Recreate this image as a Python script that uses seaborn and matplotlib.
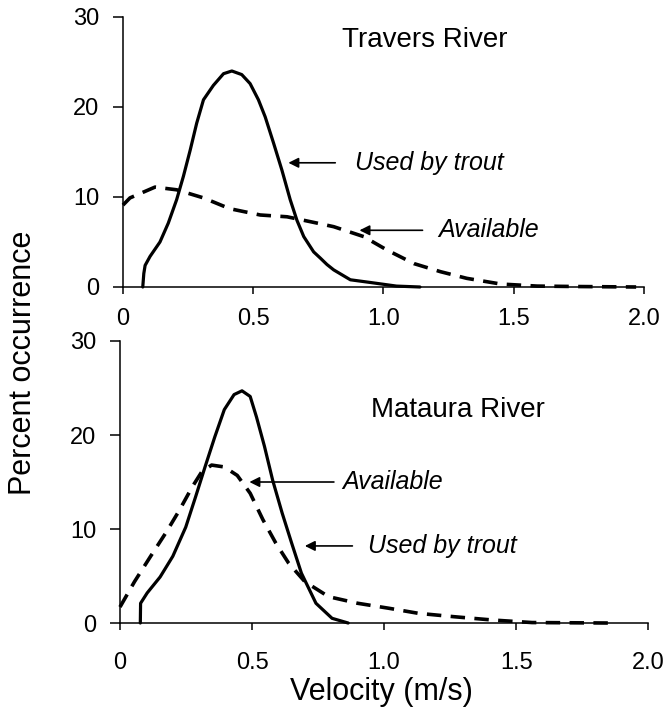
import matplotlib
matplotlib.use("Agg")
import matplotlib.pyplot as plt
import seaborn as sns

# Travers River: velocity (m/s) vs percent occurrence
travers_used_v = [0.076, 0.08, 0.085, 0.104, 0.142, 0.174, 0.206, 0.232, 0.258, 0.283,
                  0.309, 0.347, 0.386, 0.418, 0.456, 0.488, 0.52, 0.546, 0.578, 0.61,
                  0.642, 0.668, 0.694, 0.732, 0.758, 0.783, 0.809, 0.873, 0.95, 1.05, 1.14]
travers_used_pct = [0, 1.5, 2.4, 3.4, 5.0, 7.1, 9.7, 12.3, 15.2, 18.2,
                    20.8, 22.4, 23.7, 24.0, 23.6, 22.6, 20.8, 18.9, 16.0, 13.0,
                    9.7, 7.4, 5.6, 3.9, 3.2, 2.5, 1.9, 0.8, 0.5, 0.1, 0]
travers_avail_v = [0, 0.027, 0.123, 0.206, 0.309, 0.41, 0.527, 0.63, 0.745, 0.809,
                   0.924, 1.014, 1.117, 1.219, 1.32, 1.45, 1.59, 1.75, 1.97]
travers_avail_pct = [9.1, 9.9, 11.1, 10.8, 9.9, 8.7, 8.0, 7.8, 7.1, 6.7,
                     5.6, 4.1, 2.6, 1.7, 0.96, 0.33, 0.1, 0.05, 0]

# Mataura River
mataura_used_v = [0.077, 0.078, 0.103, 0.152, 0.2, 0.249, 0.286, 0.322, 0.359, 0.395,
                  0.432, 0.462, 0.493, 0.517, 0.547, 0.578, 0.614, 0.65, 0.687, 0.742,
                  0.803, 0.864]
mataura_used_pct = [0, 2.1, 3.2, 4.9, 7.1, 10.2, 13.4, 16.6, 19.8, 22.7,
                    24.3, 24.7, 24.1, 21.9, 18.8, 15.2, 11.7, 8.5, 5.3, 2.1,
                    0.5, 0]
mataura_avail_v = [0, 0.055, 0.116, 0.176, 0.225, 0.274, 0.31, 0.347, 0.395, 0.444,
                   0.493, 0.541, 0.59, 0.639, 0.70, 0.79, 0.9, 1.02, 1.13, 1.265,
                   1.41, 1.56, 1.85]
mataura_avail_pct = [1.7, 4.4, 7.1, 9.7, 12.0, 14.5, 16.1, 16.8, 16.6, 15.7,
                     13.8, 11.0, 8.5, 6.35, 4.4, 2.8, 2.1, 1.56, 1.03, 0.67,
                     0.32, 0.05, 0]

x_ticks = [0, 0.5, 1.0, 1.5, 2.0]
x_tick_labels = ["0", "0.5", "1.0", "1.5", "2.0"]
y_ticks = [0, 10, 20, 30]
y_tick_labels = ["0", "10", "20", "30"]

sns.set_theme(style="ticks")
plt.rcParams["font.family"] = ["Liberation Sans", "DejaVu Sans"]
plt.rcParams["text.color"] = "black"

fig = plt.figure(figsize=(6.64, 7.2), dpi=100)
ax_top = fig.add_axes([0.1852, 0.6014, 0.7846, 0.375])
ax_bot = fig.add_axes([0.1807, 0.1347, 0.7955, 0.3917])

dash = (0, (4, 2.6))


def style_axes(ax, xpad):
    ax.set_xlim(0, 2.0)
    ax.set_ylim(0, 30)
    ax.set_xticks(x_ticks)
    ax.set_xticklabels(x_tick_labels)
    ax.set_yticks(y_ticks)
    ax.set_yticklabels(y_tick_labels)
    sns.despine(ax=ax)
    for side in ("left", "bottom"):
        ax.spines[side].set_linewidth(1.1)
        ax.spines[side].set_color("black")
    ax.tick_params(axis="y", length=7, width=1.1, pad=10, labelsize=17, colors="black")
    ax.tick_params(axis="x", length=5, width=1.1, pad=xpad, labelsize=17, colors="black")
    ax.set_xlabel("")
    ax.set_ylabel("")
    ax.set_facecolor("white")


def draw_pair(ax, uv, up, av, ap):
    sns.lineplot(x=uv, y=up, ax=ax, color="black", lw=2.3,
                 estimator=None, sort=False, clip_on=False,
                 solid_joinstyle="round", solid_capstyle="round")
    sns.lineplot(x=av, y=ap, ax=ax, color="black", lw=2.6, linestyle=dash,
                 estimator=None, sort=False, clip_on=False,
                 dash_joinstyle="round")


def label_arrow(ax, text, head, tail_x, text_x):
    ax.annotate("", xy=head, xytext=(tail_x, head[1]),
                arrowprops=dict(arrowstyle="-|>", lw=1.2, color="black",
                                mutation_scale=15, shrinkA=0, shrinkB=0))
    ax.text(text_x, head[1], text, fontsize=18, fontstyle="italic",
            ha="left", va="center")


draw_pair(ax_top, travers_used_v, travers_used_pct, travers_avail_v, travers_avail_pct)
draw_pair(ax_bot, mataura_used_v, mataura_used_pct, mataura_avail_v, mataura_avail_pct)

style_axes(ax_top, 10)
style_axes(ax_bot, 16)

ax_top.text(1.16, 27.4, "Travers River", fontsize=20, ha="center", va="center")
ax_bot.text(1.28, 22.7, "Mataura River", fontsize=20, ha="center", va="center")

label_arrow(ax_top, "Used by trout", (0.635, 13.8), 0.815, 0.89)
label_arrow(ax_top, "Available", (0.908, 6.3), 1.15, 1.21)
label_arrow(ax_bot, "Available", (0.49, 15.0), 0.81, 0.84)
label_arrow(ax_bot, "Used by trout", (0.70, 8.2), 0.88, 0.94)

fig.text(0.035, 0.496, "Percent occurrence", rotation=90, fontsize=22,
         ha="center", va="center")
fig.text(0.574, 0.028, "Velocity (m/s)", fontsize=22, ha="center", va="baseline")

fig.savefig("out.png", dpi=100, facecolor="white")
